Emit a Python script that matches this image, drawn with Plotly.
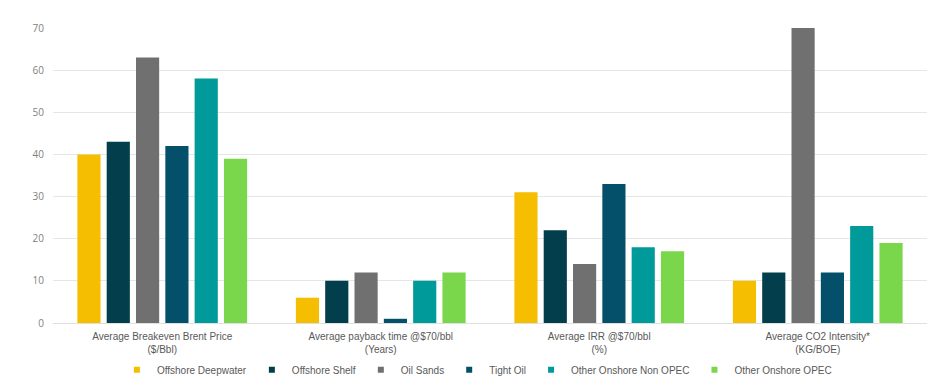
import plotly.graph_objects as go

categories = [
    "Average Breakeven Brent Price<br>($/Bbl)",
    "Average payback time @$70/bbl<br>(Years)",
    "Average IRR @$70/bbl<br>(%)",
    "Average CO2 Intensity*<br>(KG/BOE)",
]
series_names = [
    "Offshore Deepwater",
    "Offshore Shelf",
    "Oil Sands",
    "Tight Oil",
    "Other Onshore Non OPEC",
    "Other Onshore OPEC",
]
offshore_deepwater = [40, 6, 31, 10]
offshore_shelf = [43, 10, 22, 12]
oil_sands = [63, 12, 14, 70]
tight_oil = [42, 1, 33, 12]
other_onshore_non_opec = [58, 10, 18, 23]
other_onshore_opec = [39, 12, 17, 19]
series_values = [offshore_deepwater, offshore_shelf, oil_sands, tight_oil,
                 other_onshore_non_opec, other_onshore_opec]
colors = ["#F5BE00", "#033E4C", "#707070", "#04506A", "#009A9A", "#7AD64B"]
y_ticks = [0, 10, 20, 30, 40, 50, 60, 70]

fig = go.Figure()
for name, vals, col in zip(series_names, series_values, colors):
    fig.add_trace(go.Bar(name=name, x=categories, y=vals, marker_color=col,
                         marker_line_width=0, showlegend=False))
# legend entries with small square markers
for name, col in zip(series_names, colors):
    fig.add_trace(go.Scatter(name=name, x=[None], y=[None], mode="markers",
                             marker=dict(symbol="square", size=6, color=col),
                             showlegend=True))

fig.update_layout(
    width=932, height=373,
    margin=dict(l=45, r=13, t=20, b=58),
    paper_bgcolor="#FFFFFF", plot_bgcolor="#FFFFFF",
    barmode="group", bargap=0.195, bargroupgap=0.21,
    font=dict(family="Liberation Sans, Arial, sans-serif", size=10, color="#595959"),
    legend=dict(orientation="h", x=0.485, xanchor="center",
                yref="container", y=0.03, yanchor="middle",
                font=dict(size=10, color="#595959"), bgcolor="rgba(0,0,0,0)",
                itemwidth=30),
    xaxis=dict(showgrid=False, showline=False, ticks="", ticklabelstandoff=6,
               automargin=False, tickfont=dict(size=10)),
    yaxis=dict(range=[0, 70], tickvals=y_ticks, showgrid=True, gridcolor="#E6E6E6",
               gridwidth=1, zeroline=True, zerolinecolor="#E0E0E0", zerolinewidth=1,
               showline=False, ticks="", ticklabelstandoff=8, automargin=False,
               tickfont=dict(family="Open Sans, sans-serif", size=10, color="#7F7F7F")),
)
fig.write_html("out.html")
